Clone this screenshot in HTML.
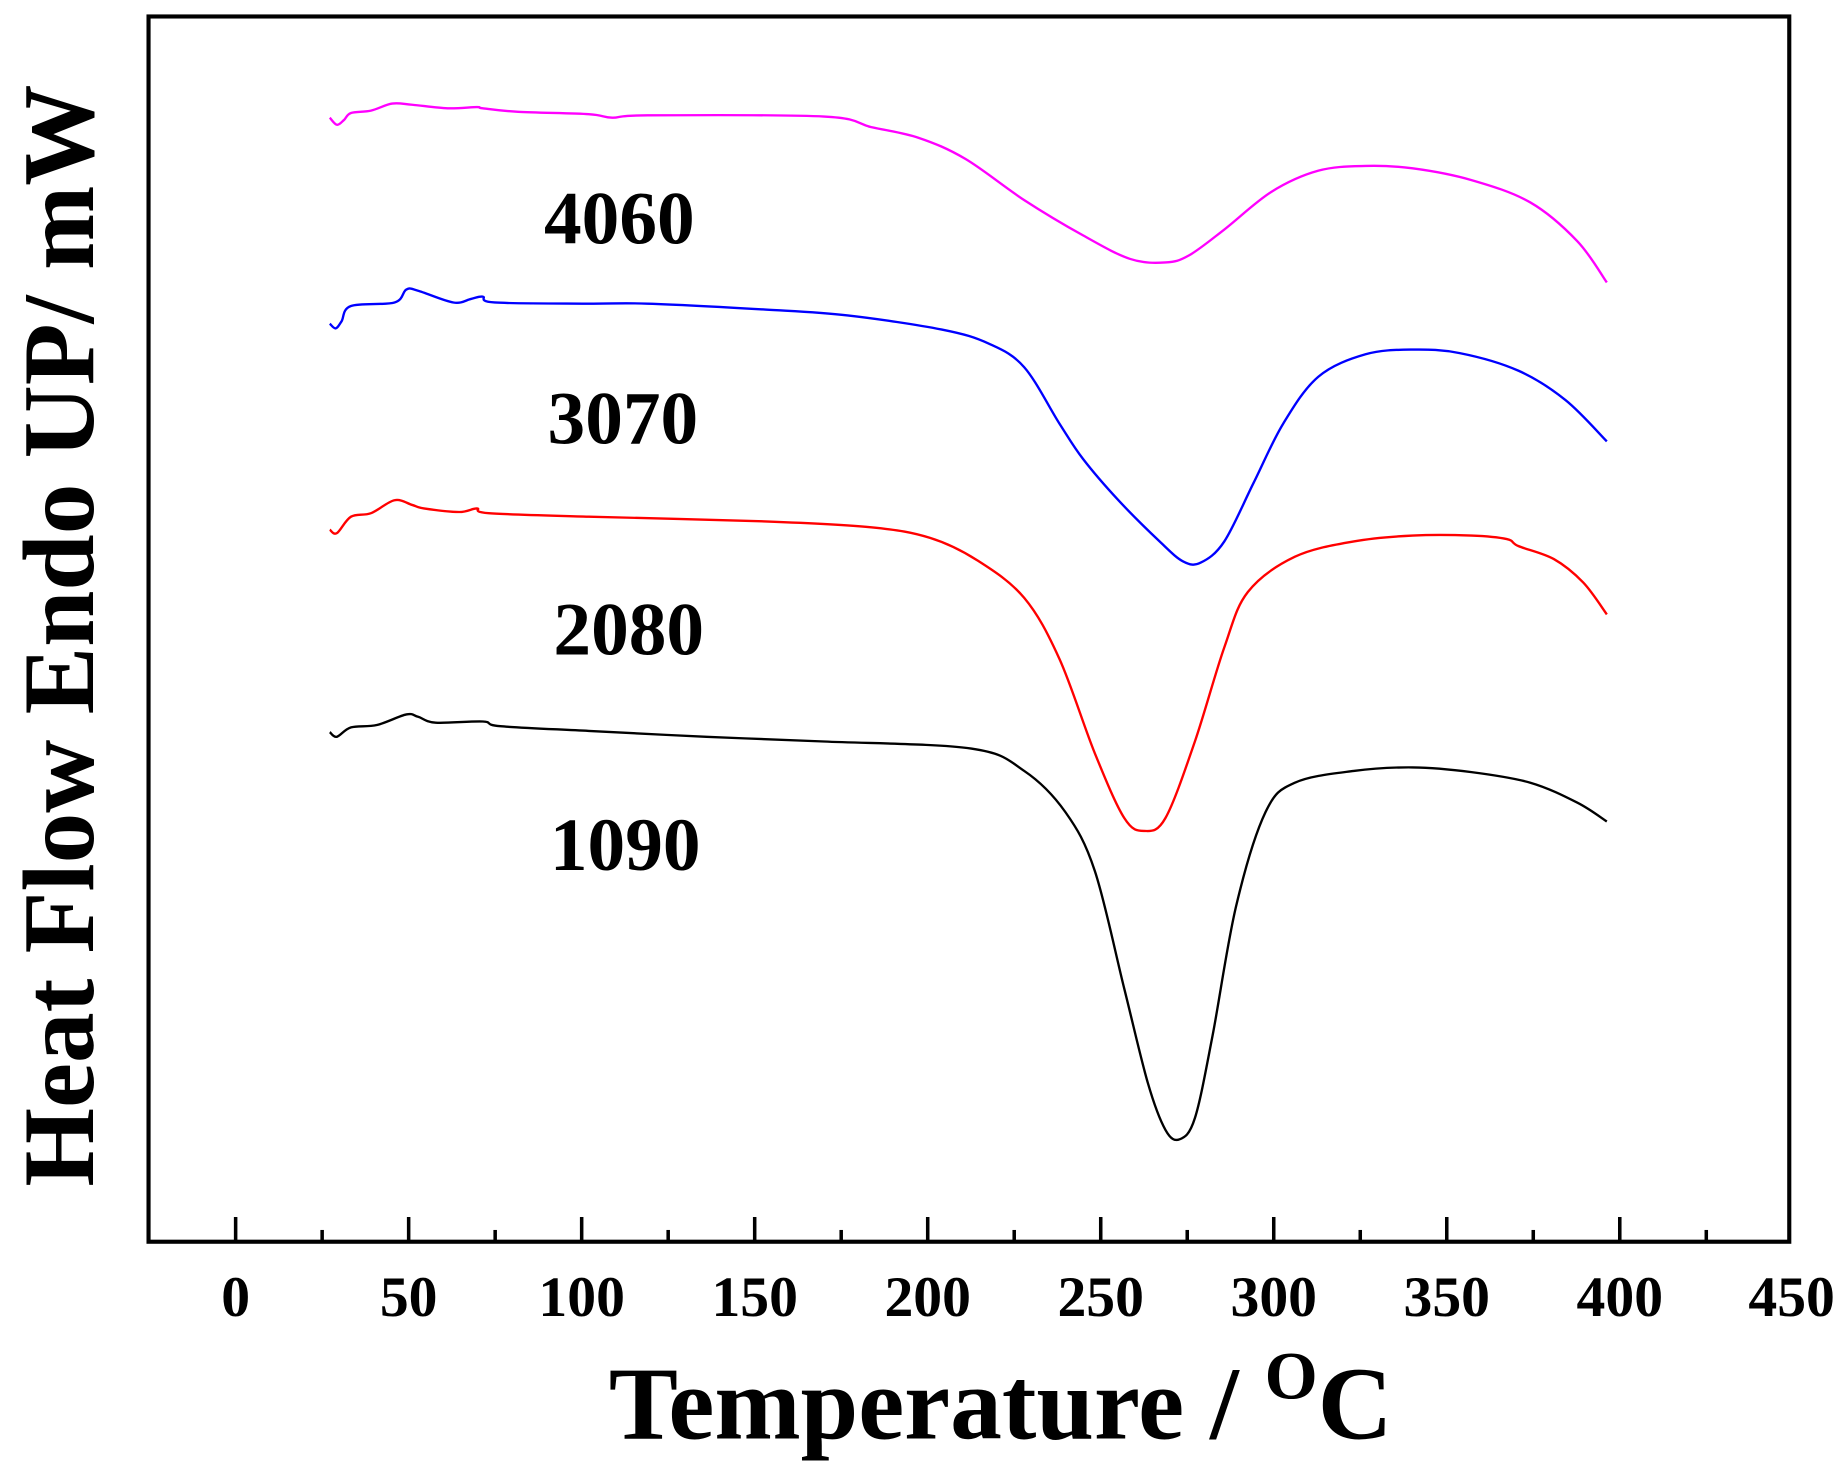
<!DOCTYPE html>
<html><head><meta charset="utf-8"><style>
html,body{margin:0;padding:0;background:#fff;overflow:hidden}
svg{display:block}
text{font-family:"Liberation Serif",serif;font-weight:bold}
</style></head><body>
<svg width="1846" height="1463" viewBox="0 0 1568 1243" xmlns="http://www.w3.org/2000/svg">
<rect x="126" y="14" width="1394" height="1041" fill="none" stroke="#000" stroke-width="3.5"/>
<g stroke="#000" stroke-width="3">
<line x1="200" y1="1055" x2="200" y2="1034"/>
<line x1="273.5" y1="1055" x2="273.5" y2="1045"/>
<line x1="347" y1="1055" x2="347" y2="1034"/>
<line x1="420.5" y1="1055" x2="420.5" y2="1045"/>
<line x1="494" y1="1055" x2="494" y2="1034"/>
<line x1="567.5" y1="1055" x2="567.5" y2="1045"/>
<line x1="641" y1="1055" x2="641" y2="1034"/>
<line x1="714.5" y1="1055" x2="714.5" y2="1045"/>
<line x1="788" y1="1055" x2="788" y2="1034"/>
<line x1="861.5" y1="1055" x2="861.5" y2="1045"/>
<line x1="935" y1="1055" x2="935" y2="1034"/>
<line x1="1008.5" y1="1055" x2="1008.5" y2="1045"/>
<line x1="1082" y1="1055" x2="1082" y2="1034"/>
<line x1="1155.5" y1="1055" x2="1155.5" y2="1045"/>
<line x1="1229" y1="1055" x2="1229" y2="1034"/>
<line x1="1302.5" y1="1055" x2="1302.5" y2="1045"/>
<line x1="1376" y1="1055" x2="1376" y2="1034"/>
<line x1="1449.5" y1="1055" x2="1449.5" y2="1045"/>
</g>
<g font-size="49" text-anchor="middle">
<text x="200" y="1118">0</text><text x="347" y="1118">50</text><text x="494" y="1118">100</text>
<text x="641" y="1118">150</text><text x="788" y="1118">200</text><text x="935" y="1118">250</text>
<text x="1082" y="1118">300</text><text x="1229" y="1118">350</text><text x="1376" y="1118">400</text>
<text x="1522" y="1118">450</text>
</g>
<text x="850" y="1222" font-size="88" text-anchor="middle">Temperature / <tspan font-size="58" dy="-34">O</tspan><tspan dy="34">C</tspan></text>
<text transform="translate(79,540) rotate(-90)" font-size="86" text-anchor="middle">Heat Flow Endo UP/ mW</text>
<g font-size="64">
<text x="462" y="207">4060</text><text x="465" y="377">3070</text>
<text x="470" y="556">2080</text><text x="467" y="739">1090</text>
</g>
<g fill="none" stroke-width="2" stroke-linejoin="round">
<polyline stroke="#ff00ff" points="280,100 286,106 292,102 298,96 315,94 333,88 350,89 380,92 405,91 410,92 440,95 500,97 520,100 550,98 700,99 740,108 780,117 820,135 870,170 920,200 960,220 990,223 1010,217 1040,195 1080,163 1120,145 1160,141 1200,143 1250,153 1300,172 1340,205 1365,240"/>
<polyline stroke="#0000ff" points="280,275 285,279 290,273 298,260 335,257 345,246 355,247 385,257 400,254 410,252 420,257 500,258 550,258 650,263 720,268 800,280 840,292 870,312 900,360 920,390 950,425 985,460 1005,477 1020,478 1040,460 1065,410 1090,360 1120,320 1160,301 1200,297 1240,300 1290,315 1330,340 1365,375"/>
<polyline stroke="#ff0000" points="280,450 286,453 298,439 315,436 335,425 350,429 360,432 390,435 405,432 415,436 500,439 650,443 740,448 790,457 830,476 870,508 900,560 930,640 955,695 972,706 990,695 1015,630 1040,550 1060,503 1100,473 1150,460 1200,455 1250,455 1280,458 1290,464 1320,475 1345,495 1365,522"/>
<polyline stroke="#000" points="280,622 286,626 298,618 320,616 345,607 355,609 370,614 410,613 425,617 500,621 600,626 700,630 825,636 870,655 905,690 930,740 955,840 975,920 990,960 1002,968 1015,950 1030,880 1050,770 1075,690 1100,665 1150,655 1200,652 1250,656 1300,665 1340,682 1365,698"/>
</g>
</svg>
<script>
document.querySelectorAll('polyline').forEach(function(pl){
  var a=pl.getAttribute('points').trim().split(/\s+/).map(function(s){var q=s.split(',');return [+q[0],+q[1]];});
  var d='M'+a[0][0]+','+a[0][1];
  for(var i=0;i<a.length-1;i++){
    var p0=a[i-1]||a[i],p1=a[i],p2=a[i+1],p3=a[i+2]||a[i+1];
    var c1=[p1[0]+(p2[0]-p0[0])/6,p1[1]+(p2[1]-p0[1])/6];
    var c2=[p2[0]-(p3[0]-p1[0])/6,p2[1]-(p3[1]-p1[1])/6];
    d+=' C'+c1[0]+','+c1[1]+' '+c2[0]+','+c2[1]+' '+p2[0]+','+p2[1];
  }
  var p=document.createElementNS('http://www.w3.org/2000/svg','path');
  p.setAttribute('d',d);p.setAttribute('stroke',pl.getAttribute('stroke'));
  pl.parentNode.replaceChild(p,pl);
});
</script>
</body></html>
